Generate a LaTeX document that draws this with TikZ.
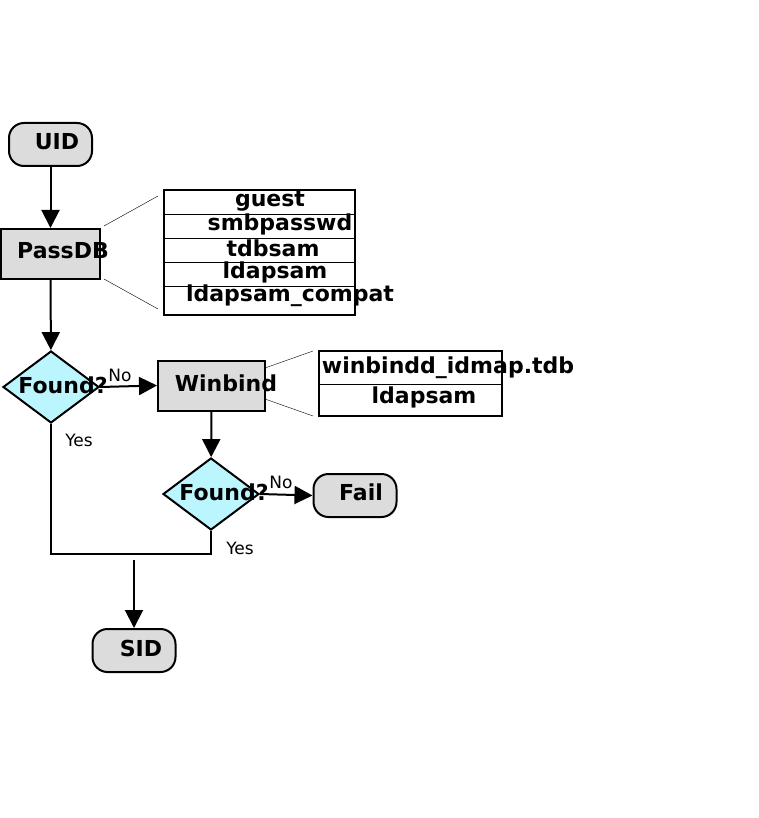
\documentclass[tikz,border=0pt]{standalone}
\usepackage{fontspec}
\setmainfont{DejaVu Sans}
\usetikzlibrary{arrows.meta,shapes.geometric}
\definecolor{boxgray}{HTML}{DCDCDC}
\definecolor{qcyan}{HTML}{BBF6FF}
\tikzset{
  term/.style={draw,line width=2pt,fill=boxgray,rounded corners=15pt,minimum width=83pt,minimum height=43pt},
  proc/.style={draw,line width=2pt,fill=boxgray,minimum width=#1,minimum height=50pt},
  ask/.style={draw,line width=2pt,fill=qcyan,diamond,minimum width=96pt,minimum height=72pt,inner sep=0pt},
  lbl/.style={font=\bfseries\fontsize{22}{24}\selectfont},
  yn/.style={font=\fontsize{17}{19}\selectfont},
  flow/.style={line width=2pt,-{Triangle[length=18pt,width=18pt]}}
}
\begin{document}
\begin{tikzpicture}[x=1pt,y=-1pt]
  \useasboundingbox (0,0) rectangle (759,818);
  \node[term] (UID) at (50.5,144.5) {};
  \node[lbl] at (57,142) {UID};
  \node[proc=99pt] (PDB) at (50.5,254) {};
  \node[lbl] at (63,251) {PassDB};
  \node[ask] (F1) at (51,387) {};
  \node[lbl] at (63,385) {Found?};
  \node[proc=107pt] (WB) at (211.5,385.5) {};
  \node[lbl] at (226,383) {Winbind};
  \node[ask] (F2) at (211,494) {};
  \node[lbl] at (224,492) {Found?};
  \node[term] (Fail) at (355,495.5) {};
  \node[lbl] at (361,492) {Fail};
  \node[term] (SID) at (134,650.5) {};
  \node[lbl] at (141,648) {SID};

  % backends
  \draw[line width=2pt] (164,190) rectangle (355,315);
  \foreach \y in {214,238,262,286} \draw (164,\y) -- (355,\y);
  \node[lbl] at (270,201) {guest};
  \node[lbl] at (280,224) {smbpasswd};
  \node[lbl] at (273,248) {tdbsam};
  \node[lbl] at (275,272) {ldapsam};
  \node[lbl] at (290,296) {ldapsam\_compat};
  \draw (104,226) -- (158,196);
  \draw (104,279) -- (158,309);

  \draw[line width=2pt] (319,351) rectangle (502,416);
  \draw (319,384) -- (502,384);
  \node[lbl] at (448,368) {winbindd\_idmap.tdb};
  \node[lbl] at (424,397) {ldapsam};
  \draw (265,368) -- (313,351);
  \draw (265,399) -- (313,416);

  % flow
  \draw[flow] (UID) -- (PDB);
  \draw[flow] (PDB) -- (F1);
  \draw[flow] (F1.east) -- (WB.west);
  \node[yn] at (120,375) {No};
  \draw[flow] (WB) -- (F2);
  \draw[flow] (F2.east) -- (Fail.west);
  \node[yn] at (281,482) {No};
  \draw[line width=2pt] (F1.south) |- (134,554) -| (F2.south);
  \node[yn] at (79,440) {Yes};
  \node[yn] at (240,548) {Yes};
  \coordinate (J) at (134,560);
  \draw[flow] (J) -- (SID.north);
\end{tikzpicture}
\end{document}
